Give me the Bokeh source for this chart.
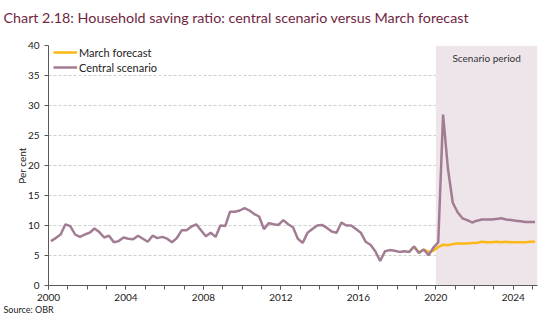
from bokeh.plotting import figure
from bokeh.models import (ColumnDataSource, BoxAnnotation, Label, FixedTicker,
                          Legend, LegendItem, Title, Range1d)
from bokeh.embed import file_html
from bokeh.resources import INLINE

# ---------------- data ----------------
start_year = 2000
central_scenario = [
    7.4, 7.9, 8.5, 10.2,   # 2000
    9.9, 8.5, 8.1, 8.5,    # 2001
    8.8, 9.5, 8.9, 8.0,    # 2002
    8.3, 7.2, 7.4, 8.0,    # 2003
    7.8, 7.7, 8.3, 7.8,    # 2004
    7.3, 8.3, 7.9, 8.1,    # 2005
    7.8, 7.2, 7.9, 9.2,    # 2006
    9.2, 9.8, 10.2, 9.2,   # 2007
    8.2, 8.8, 8.1, 10.0,   # 2008
    9.9, 12.3, 12.3, 12.5, # 2009
    12.9, 12.5, 11.9, 11.5,# 2010
    9.4, 10.4, 10.2, 10.1, # 2011
    10.9, 10.2, 9.7, 7.8,  # 2012
    7.1, 8.8, 9.4, 10.0,   # 2013
    10.1, 9.6, 9.0, 8.8,   # 2014
    10.5, 10.0, 10.0, 9.4, # 2015
    8.8, 7.3, 6.8, 5.7,    # 2016
    4.1, 5.7, 5.9, 5.8,    # 2017
    5.6, 5.7, 5.6, 6.5,    # 2018
    5.4, 6.0, 5.05, 6.3,   # 2019
    7.2, 28.5, 19.5, 13.8, # 2020
    12.2, 11.2, 10.9, 10.5,# 2021
    10.8, 11.0, 11.0, 11.0,# 2022
    11.1, 11.2, 11.0, 10.9,# 2023
    10.8, 10.7, 10.6, 10.6,# 2024
    10.6,                  # 2025
]
march_start_index = 74
march_forecast = [
    5.6, 6.5,              # 2018 Q3-Q4
    5.5, 6.0, 5.6, 5.8,    # 2019
    6.4, 6.8, 6.7, 6.9,    # 2020
    7.0, 7.0, 7.0, 7.1,    # 2021
    7.1, 7.3, 7.2, 7.2,    # 2022
    7.3, 7.2, 7.3, 7.2,    # 2023
    7.2, 7.2, 7.2, 7.3,    # 2024
    7.3,                   # 2025
]
scenario_start = 2020
x_end = 2025.25
y_top = 40
year_labels = [2000, 2004, 2008, 2012, 2016, 2020, 2024]
y_ticks = [0, 5, 10, 15, 20, 25, 30, 35, 40]
title_text = "Chart 2.18: Household saving ratio: central scenario versus March forecast"

# quarterly positions (mid-quarter)
x_central = [start_year + i / 4 + 0.125 for i in range(len(central_scenario))]
x_march = [start_year + (march_start_index + i) / 4 + 0.125 for i in range(len(march_forecast))]

src_c = ColumnDataSource(dict(x=x_central, y=central_scenario))
src_m = ColumnDataSource(dict(x=x_march, y=march_forecast))

FONT = "Lato"
PURPLE = "#a27c93"
YELLOW = "#fbb817"

p = figure(width=550, height=323, output_backend="svg", toolbar_location=None,
           x_range=Range1d(start_year, x_end), y_range=Range1d(0, y_top),
           min_border_left=48, min_border_right=13, min_border_top=45,
           min_border_bottom=38)
p.outline_line_color = None
p.background_fill_color = "white"
p.border_fill_color = "white"
p.title.visible = False

# spacer between frame and title, then the title itself (further out)
p.add_layout(Title(text=" ", text_font=FONT, text_font_size="15px",
                   standoff=0), "above")
p.add_layout(Title(text=title_text, align="left", text_font=FONT,
                   text_font_size="14.3px", text_font_style="normal",
                   text_color="#70263f", offset=-45, standoff=0), "above")

# scenario shading
p.add_layout(BoxAnnotation(left=scenario_start, right=x_end, fill_color="#ede5ea",
                           fill_alpha=1.0, line_color=None, level="underlay"))

r_m = p.line("x", "y", source=src_m, line_color=YELLOW, line_width=2.5)
r_c = p.line("x", "y", source=src_c, line_color=PURPLE, line_width=2.5)

p.add_layout(Label(x=(scenario_start + x_end) / 2, y=38, text="Scenario period",
                   text_font=FONT, text_font_size="10px", text_color="#333333",
                   text_align="center", text_baseline="middle"))

# axes
p.xaxis.ticker = FixedTicker(ticks=year_labels, minor_ticks=list(range(2000, 2026)))
p.yaxis.ticker = FixedTicker(ticks=y_ticks)
for ax in (p.xaxis[0], p.yaxis[0]):
    ax.axis_line_color = "#595959"
    ax.axis_line_width = 1
    ax.major_tick_line_color = "#595959"
    ax.minor_tick_line_color = "#595959"
    ax.major_tick_in = 0
    ax.major_tick_out = 4
    ax.minor_tick_in = 0
    ax.minor_tick_out = 4
    ax.major_label_text_font = FONT
    ax.major_label_text_font_size = "10px"
    ax.major_label_text_color = "#222222"
p.yaxis.minor_tick_line_color = None
p.yaxis.major_label_standoff = 5
p.xaxis.major_label_standoff = 4
p.yaxis.axis_label = "Per cent"
p.yaxis.axis_label_text_font = FONT
p.yaxis.axis_label_text_font_size = "10px"
p.yaxis.axis_label_text_font_style = "normal"
p.yaxis.axis_label_text_color = "#222222"
p.yaxis.axis_label_standoff = -3

p.xgrid.grid_line_color = None
p.ygrid.grid_line_color = "#cfcfcf"
p.ygrid.grid_line_dash = "3 2"
p.ygrid.grid_line_width = 1

# legend
legend = Legend(items=[LegendItem(label="March forecast", renderers=[r_m]),
                       LegendItem(label="Central scenario", renderers=[r_c])],
                location=(5, 211), orientation="vertical")
legend.background_fill_alpha = 0
legend.border_line_color = None
legend.padding = 0
legend.margin = 0
legend.spacing = 1
legend.glyph_width = 24
legend.glyph_height = 14
legend.label_height = 14
legend.label_standoff = 2
legend.label_text_font = FONT
legend.label_text_font_size = "11px"
legend.label_text_color = "#222222"
p.add_layout(legend)

# source note
p.add_layout(Title(text="Source: OBR", align="left", text_font=FONT,
                   text_font_size="9px", text_font_style="normal",
                   text_color="#222222", offset=-45, standoff=-3), "below")

open("out.html", "w").write(file_html(p, INLINE))
